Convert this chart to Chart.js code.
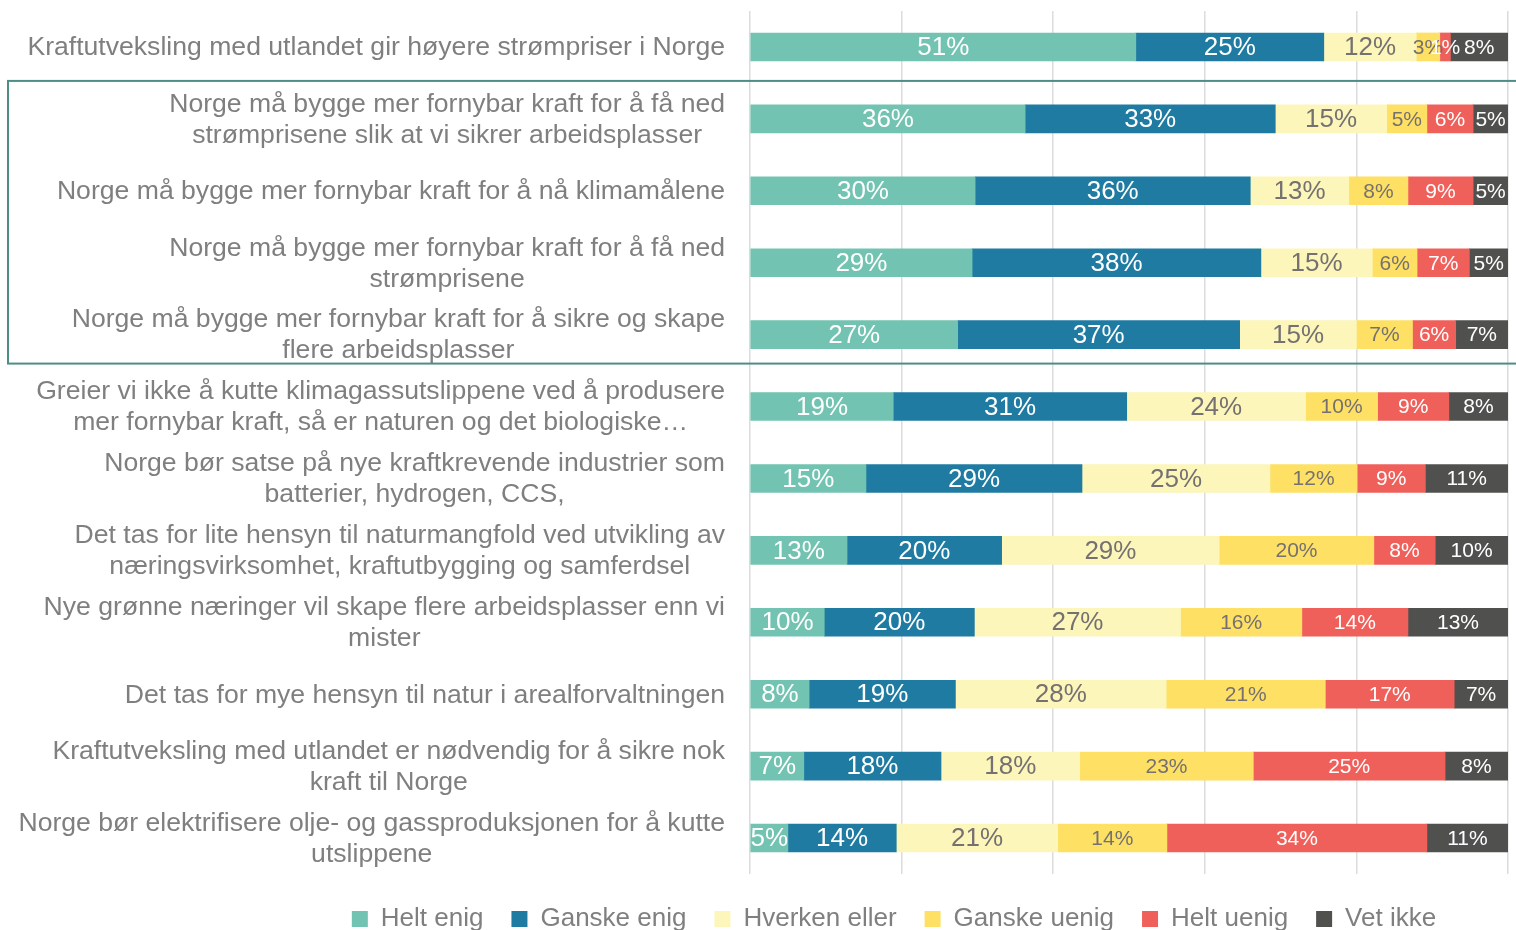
<!DOCTYPE html>
<html>
<head>
  <meta charset="UTF-8">
  <title>Holdninger til kraft og natur</title>
  <script src="https://cdn.jsdelivr.net/npm/chart.js"></script>
  <style>
    html, body { margin: 0; padding: 0; background: #fff; overflow: hidden; }
    #wrap { position: relative; width: 1516px; height: 930px; }
  </style>
</head>
<body>
  <div id="wrap"><canvas id="chart"></canvas></div>
  <script>
    // påstander, ett linjeskift per array-element
    const categories = [
      ['Kraftutveksling med utlandet gir høyere strømpriser i Norge'],
      ['Norge må bygge mer fornybar kraft for å få ned', 'strømprisene slik at vi sikrer arbeidsplasser'],
      ['Norge må bygge mer fornybar kraft for å nå klimamålene'],
      ['Norge må bygge mer fornybar kraft for å få ned', 'strømprisene'],
      ['Norge må bygge mer fornybar kraft for å sikre og skape', 'flere arbeidsplasser'],
      ['Greier vi ikke å kutte klimagassutslippene ved å produsere', 'mer fornybar kraft, så er naturen og det biologiske…'],
      ['Norge bør satse på nye kraftkrevende industrier som', 'batterier, hydrogen, CCS,'],
      ['Det tas for lite hensyn til naturmangfold ved utvikling av', 'næringsvirksomhet, kraftutbygging og samferdsel'],
      ['Nye grønne næringer vil skape flere arbeidsplasser enn vi', 'mister'],
      ['Det tas for mye hensyn til natur i arealforvaltningen'],
      ['Kraftutveksling med utlandet er nødvendig for å sikre nok', 'kraft til Norge'],
      ['Norge bør elektrifisere olje- og gassproduksjonen for å kutte', 'utslippene']
    ];

    const seriesNames = ['Helt enig', 'Ganske enig', 'Hverken eller', 'Ganske uenig', 'Helt uenig', 'Vet ikke'];

    // andeler i prosent (lest av søylelengdene)
    const heltEnig     = [50.9, 36.3, 29.7, 29.3, 27.4, 18.9, 15.3, 12.8,  9.8,  7.8,  7.1,  5.0];
    const ganskeEnig   = [24.8, 33.0, 36.3, 38.1, 37.2, 30.8, 28.5, 20.4, 19.8, 19.3, 18.1, 14.3];
    const hverkenEller = [12.2, 14.7, 13.0, 14.7, 15.4, 23.6, 24.8, 28.7, 27.2, 27.8, 18.3, 21.3];
    const ganskeUenig  = [ 3.1,  5.3,  7.8,  5.9,  7.4,  9.5, 11.5, 20.4, 16.0, 21.0, 22.9, 14.4];
    const heltUenig    = [ 1.4,  6.1,  8.6,  6.9,  5.7,  9.4,  9.0,  8.1, 14.0, 17.0, 25.3, 34.3];
    const vetIkke      = [ 7.6,  4.6,  4.6,  5.1,  6.9,  7.8, 10.9,  9.6, 13.2,  7.1,  8.3, 10.7];

    const colors = ['#72c3b1', '#1f7ba1', '#fcf6bb', '#fde064', '#f0605b', '#50514f'];
    const labelColors = ['#ffffff', '#ffffff', '#767171', '#767171', '#ffffff', '#ffffff'];
    const labelSizes = [26, 26, 26, 21, 21, 21];

    const FONT = '"Liberation Sans", Arial, sans-serif';
    const GREY = '#7f7f7f';

    const values = [heltEnig, ganskeEnig, hverkenEller, ganskeUenig, heltUenig, vetIkke];

    const datasets = values.map((data, i) => ({
      label: seriesNames[i],
      data,
      backgroundColor: colors[i],
      borderWidth: 0,
      barThickness: 28
    }));

    // prosentetiketter midt i hvert segment
    const barLabels = {
      id: 'barLabels',
      afterDatasetsDraw(chart) {
        const ctx = chart.ctx;
        ctx.save();
        ctx.textAlign = 'center';
        ctx.textBaseline = 'middle';
        chart.data.datasets.forEach((ds, d) => {
          const meta = chart.getDatasetMeta(d);
          if (meta.hidden) return;
          ctx.font = labelSizes[d] + 'px ' + FONT;
          ctx.fillStyle = labelColors[d];
          meta.data.forEach((bar, i) => {
            const x = (bar.x + bar.base) / 2;
            ctx.fillText(Math.round(ds.data[i]) + '%', x, bar.y + 1);
          });
        });
        ctx.restore();
      }
    };

    // kategoritekster: blokken høyrejustert, linjene sentrert
    const categoryText = {
      id: 'categoryText',
      afterDraw(chart) {
        const ctx = chart.ctx;
        const y = chart.scales.y;
        const right = 725;
        const lineH = 31;
        ctx.save();
        ctx.font = '26.6px ' + FONT;
        ctx.fillStyle = GREY;
        ctx.textAlign = 'center';
        ctx.textBaseline = 'middle';
        categories.forEach((lines, i) => {
          const w = Math.max(...lines.map(l => ctx.measureText(l).width));
          const cx = right - w / 2;
          const cy = y.getPixelForValue(i) + 1;
          lines.forEach((l, k) => {
            ctx.fillText(l, cx, cy + (k - (lines.length - 1) / 2) * lineH);
          });
        });

        // ramme rundt "Norge må bygge mer fornybar kraft"-påstandene
        const top = (y.getPixelForValue(0) + y.getPixelForValue(1)) / 2 - 2;
        const bottom = (y.getPixelForValue(4) + y.getPixelForValue(5)) / 2 - 7;
        ctx.strokeStyle = '#4e8f85';
        ctx.lineWidth = 2;
        ctx.strokeRect(8, top, 1520, bottom - top);
        ctx.restore();
      }
    };

    new Chart(document.getElementById('chart'), {
      type: 'bar',
      data: {
        labels: categories.map(c => c.join(' ')),
        datasets
      },
      options: {
        indexAxis: 'y',
        responsive: true,
        maintainAspectRatio: false,
        animation: false,
        layout: { padding: { left: 280, right: 8, top: 11, bottom: -12 } },
        plugins: {
          legend: {
            position: 'bottom',
            labels: {
              boxWidth: 16,
              boxHeight: 16,
              padding: 28,
              color: GREY,
              font: { size: 26, family: FONT }
            }
          },
          tooltip: { enabled: false },
          title: { display: false }
        },
        scales: {
          x: {
            stacked: true,
            min: 0,
            max: 100,
            ticks: { display: false, stepSize: 20 },
            grid: { color: '#dcdcdc', lineWidth: 1.5, drawTicks: false },
            border: { display: false },
            afterFit: (scale) => { scale.height = 4; }
          },
          y: {
            stacked: true,
            ticks: { display: false },
            grid: { display: false },
            border: { display: false },
            afterFit: (scale) => { scale.width = 470; }
          }
        }
      },
      plugins: [barLabels, categoryText]
    });
  </script>
</body>
</html>
